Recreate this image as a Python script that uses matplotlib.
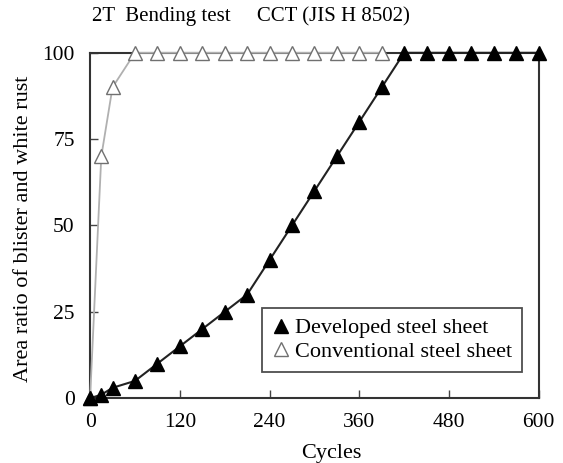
import matplotlib
matplotlib.use("Agg")
from matplotlib import pyplot as plt

# data
dev_cycles = [0, 15, 30, 60, 90, 120, 150, 180, 210, 240, 270, 300, 330, 360, 390,
              420, 450, 480, 510, 540, 570, 600]
dev_ratio = [0, 1, 3, 5, 10, 15, 20, 25, 30, 40, 50, 60, 70, 80, 90,
             100, 100, 100, 100, 100, 100, 100]
conv_cycles = [0, 15, 30, 60, 90, 120, 150, 180, 210, 240, 270, 300, 330, 360, 390]
conv_ratio = [0, 70, 90, 100, 100, 100, 100, 100, 100, 100, 100, 100, 100, 100, 100]
x_ticks = [0, 120, 240, 360, 480, 600]
y_ticks = [0, 25, 50, 75, 100]

plt.rcParams['font.family'] = ['Liberation Serif', 'DejaVu Serif']

fig = plt.figure(figsize=(5.63, 4.63), dpi=100)
ax = fig.add_axes([0.16, 0.14, 0.797, 0.746])

# conventional sheet: grey line, hollow triangles
ax.plot(conv_cycles, conv_ratio, color='#b0b0b0', lw=1.3, marker='^', markersize=9.5,
        markerfacecolor='white', markeredgecolor='#707070', markeredgewidth=1.0,
        clip_on=False, zorder=3, label='Conventional steel sheet')
# developed sheet: black line, filled triangles
ax.plot(dev_cycles, dev_ratio, color='#222222', lw=1.5, marker='^', markersize=9.5,
        markerfacecolor='black', markeredgecolor='black',
        clip_on=False, zorder=4, label='Developed steel sheet')

ax.set_xlim(0, 600)
ax.set_ylim(0, 100)
ax.set_xticks(x_ticks)
ax.set_yticks(y_ticks)
ax.tick_params(direction='in', length=6, width=1, labelsize=15.5, color='#444444')
ax.tick_params(axis='x', pad=11)
ax.tick_params(axis='y', pad=11)
for s in ax.spines.values():
    s.set_linewidth(1.5)
    s.set_color('#333333')

ax.set_xlabel('Cycles', fontsize=16)
ax.xaxis.set_label_coords(0.538, -0.133)
ax.set_ylabel('Area ratio of blister and white rust', fontsize=16)
ax.yaxis.set_label_coords(-0.128, 0.49)
fig.text(0.163, 0.965, '2T  Bending test     CCT (JIS H 8502)', fontsize=15, va='center')

handles, labels = ax.get_legend_handles_labels()
leg = ax.legend(handles[::-1], labels[::-1], loc='lower right', bbox_to_anchor=(0.963, 0.075),
                fontsize=16, frameon=True, fancybox=False, edgecolor='#222222',
                handlelength=0.8, handletextpad=0.25, borderpad=0.45, labelspacing=0.15,
                borderaxespad=0)
leg.get_frame().set_linewidth(1.3)
for h in leg.legend_handles:
    h.set_linestyle('none')

fig.savefig('out.png', dpi=100)
